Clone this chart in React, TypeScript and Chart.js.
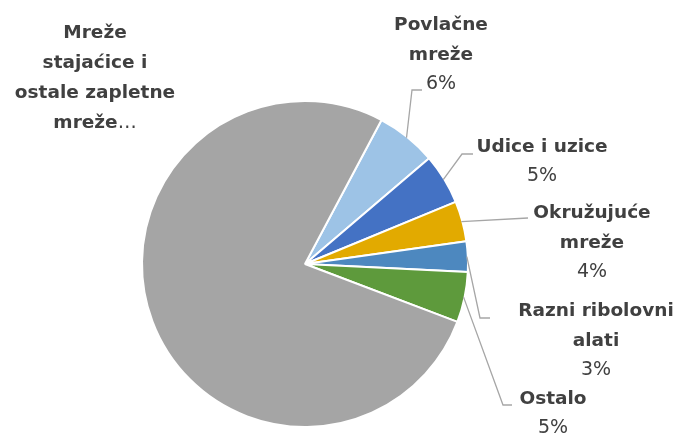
import React, { useEffect, useRef } from "react";
import { Chart, registerables } from "chart.js";

Chart.register(...registerables);

const categories = [
  "Povlačne mreže",
  "Udice i uzice",
  "Okružujuće mreže",
  "Razni ribolovni alati",
  "Ostalo",
  "Mreže stajaćice i ostale zapletne mreže",
];
const values = [6, 5, 4, 3, 5, 77];
const percentLabels = ["6%", "5%", "4%", "3%", "5%", ""];
const labelLines = [
  ["Povlačne", "mreže"],
  ["Udice i uzice"],
  ["Okružujuće", "mreže"],
  ["Razni ribolovni", "alati"],
  ["Ostalo"],
  ["Mreže", "stajaćice i", "ostale zapletne", "mreže"],
];
const colors = ["#9DC3E6", "#4472C4", "#E2AA00", "#4D88BF", "#5E9A3C", "#A5A5A5"];

// label layout (text centre x, first line y, leader elbow and end)
const labelLayout = [
  { cx: 441, y0: 25, elbow: [412, 90], end: [422, 90] },
  { cx: 542, y0: 147, elbow: [462, 154], end: [473, 154] },
  { cx: 592, y0: 213, elbow: [528, 218], end: [528, 218] },
  { cx: 596, y0: 311, elbow: [480, 318], end: [490, 318] },
  { cx: 553, y0: 399, elbow: [503, 405], end: [512, 405] },
  { cx: 95, y0: 33, elbow: null, end: null },
];

const FONT = "'DejaVu Sans', sans-serif";
const BOLD = `bold 18.5px ${FONT}`;
const LIGHT = `normal 19px ${FONT}`;

const labelPlugin = {
  id: "pieLabels",
  afterDraw(chart: any) {
    const ctx = chart.ctx;
    const meta = chart.getDatasetMeta(0);
    ctx.save();
    meta.data.forEach((arc: any, i: number) => {
      const lay = labelLayout[i];
      const props = arc.getProps(["x", "y", "startAngle", "endAngle", "outerRadius"], true);
      const mid = (props.startAngle + props.endAngle) / 2;
      if (lay.elbow) {
        const r = props.outerRadius - 1;
        const sx = props.x + Math.cos(mid) * r;
        const sy = props.y + Math.sin(mid) * r;
        ctx.strokeStyle = "#A6A6A6";
        ctx.lineWidth = 1.3;
        ctx.beginPath();
        ctx.moveTo(sx, sy);
        ctx.lineTo(lay.elbow[0], lay.elbow[1]);
        ctx.lineTo(lay.end![0], lay.end![1]);
        ctx.stroke();
      }
      const lines = labelLines[i];
      ctx.fillStyle = "#404040";
      ctx.textAlign = "center";
      ctx.textBaseline = "middle";
      lines.forEach((t, k) => {
        const y = lay.y0 + k * 30;
        ctx.font = BOLD;
        if (i === 5 && k === lines.length - 1) {
          const w1 = ctx.measureText(t).width;
          ctx.font = LIGHT;
          const w2 = ctx.measureText("…").width;
          const left = lay.cx - (w1 + w2) / 2;
          ctx.textAlign = "left";
          ctx.font = BOLD;
          ctx.fillText(t, left, y);
          ctx.font = LIGHT;
          ctx.fillText("…", left + w1, y);
          ctx.textAlign = "center";
        } else {
          ctx.fillText(t, lay.cx, y);
        }
      });
      if (percentLabels[i]) {
        ctx.font = LIGHT;
        ctx.fillText(percentLabels[i], lay.cx, lay.y0 + lines.length * 30 - 1);
      }
    });
    ctx.restore();
  },
};

export default function App() {
  const ref = useRef<HTMLCanvasElement>(null);
  useEffect(() => {
    if (!ref.current) return;
    const chart = new Chart(ref.current, {
      type: "pie",
      data: {
        labels: categories,
        datasets: [
          {
            data: values,
            backgroundColor: colors,
            borderColor: "#FFFFFF",
            borderWidth: 2,
          },
        ],
      },
      options: {
        responsive: false,
        animation: false,
        rotation: 28,
        layout: { padding: { left: 141, right: 210, top: 100, bottom: 7 } },
        plugins: {
          legend: { display: false },
          tooltip: { enabled: false },
        },
      },
      plugins: [labelPlugin],
    });
    return () => chart.destroy();
  }, []);
  return (
    <div style={{ position: "absolute", left: 0, top: 0, width: 679, height: 435, background: "#fff" }}>
      <canvas ref={ref} width={679} height={435} style={{ width: 679, height: 435 }} />
    </div>
  );
}
